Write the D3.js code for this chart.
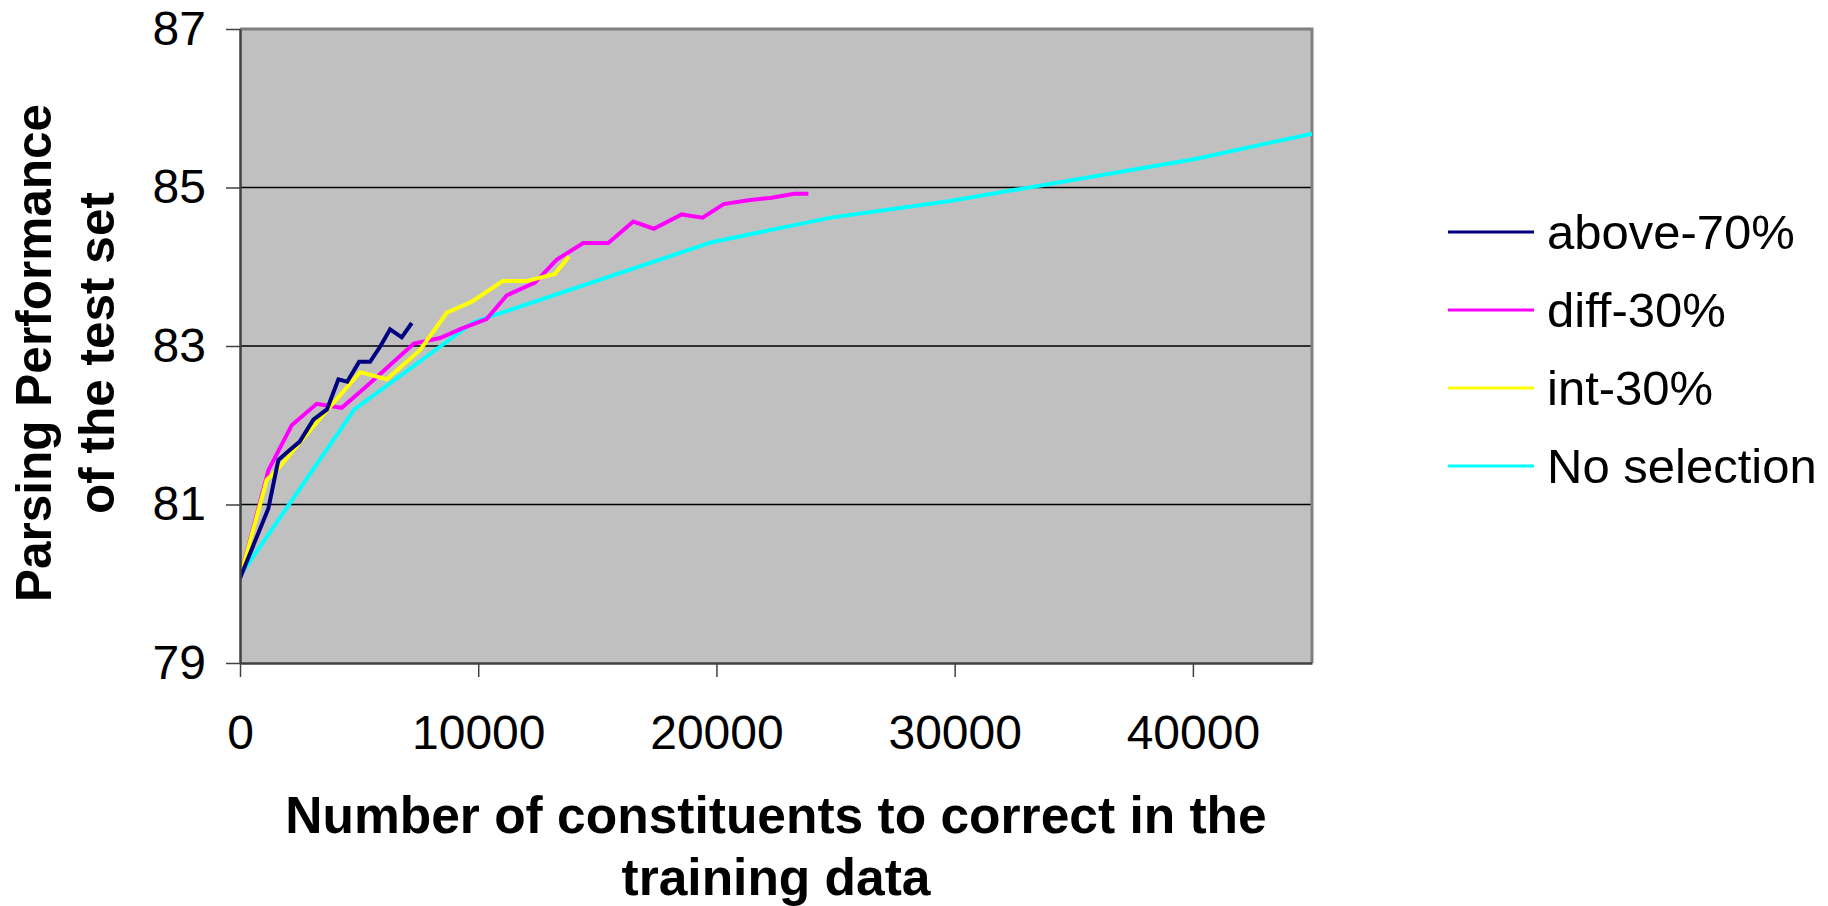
<!DOCTYPE html>
<html>
<head>
<meta charset="utf-8">
<script src="https://cdn.jsdelivr.net/npm/d3@7"></script>
<style>
  html, body { margin: 0; padding: 0; background: #fff; }
  text { font-family: "Liberation Sans", Arial, sans-serif; }
</style>
</head>
<body>
<svg id="chart" width="1828" height="906"></svg>
<script>
// ---- data ----
const seriesNames = ["above-70%", "diff-30%", "int-30%", "No selection"];
const seriesColors = ["#000080", "#FF00FF", "#FFFF00", "#00FFFF"];

const aboveX = [0, 1190, 1610, 2100, 2500, 3080, 3650, 4130, 4500, 5000, 5460, 5880, 6300, 6790, 7210];
const aboveY = [80.07, 80.95, 81.56, 81.69, 81.79, 82.07, 82.2, 82.58, 82.55, 82.8, 82.8, 82.99, 83.21, 83.11, 83.29];

const diffX = [0, 1190, 2170, 3220, 4270, 5300, 6300, 7300, 8400, 9300, 10350, 11200, 12380, 13300, 14410, 15460, 16510, 17370, 18540, 19420, 20300, 21340, 22320, 23260, 23860];
const diffY = [80.07, 81.43, 82.0, 82.27, 82.22, 82.49, 82.76, 83.03, 83.1, 83.22, 83.34, 83.64, 83.8, 84.09, 84.3, 84.3, 84.57, 84.48, 84.66, 84.62, 84.79, 84.84, 84.87, 84.92, 84.92];

const intX = [0, 1120, 1540, 2590, 3800, 5040, 6160, 7560, 8680, 9730, 11030, 12040, 13220, 13810];
const intY = [80.07, 81.31, 81.43, 81.81, 82.24, 82.67, 82.58, 82.95, 83.42, 83.56, 83.82, 83.82, 83.91, 84.13];

const noSelX = [0, 4800, 9800, 19800, 24800, 29800, 40100, 45000];
const noSelY = [80.1, 82.2, 83.3, 84.31, 84.62, 84.83, 85.36, 85.68];

const xTicks = [0, 10000, 20000, 30000, 40000];
const yTicks = [79, 81, 83, 85, 87];
const xTitleLines = ["Number of constituents to correct in the", "training data"];
const yTitleLines = ["Parsing Performance", "of the test set"];

// ---- layout ----
const svg = d3.select("#chart");
const L = 240, R = 1312, T = 29, B = 663;
const x = d3.scaleLinear().domain([0, 45000]).range([L, R]);
const y = d3.scaleLinear().domain([79, 87]).range([B, T]);

const series = [
  {name: seriesNames[0], color: seriesColors[0], pts: aboveX.map((v, i) => [v, aboveY[i]])},
  {name: seriesNames[1], color: seriesColors[1], pts: diffX.map((v, i) => [v, diffY[i]])},
  {name: seriesNames[2], color: seriesColors[2], pts: intX.map((v, i) => [v, intY[i]])},
  {name: seriesNames[3], color: seriesColors[3], pts: noSelX.map((v, i) => [v, noSelY[i]])}
];

// plot background
svg.append("rect").attr("x", L).attr("y", T).attr("width", R - L).attr("height", B - T)
  .attr("fill", "#C0C0C0");

// gridlines
svg.append("g").selectAll("line").data(yTicks.filter(d => d > 79 && d < 87)).join("line")
  .attr("x1", L).attr("x2", R).attr("y1", d => y(d)).attr("y2", d => y(d))
  .attr("stroke", "#000").attr("stroke-width", 1.5);

// border (top / right)
svg.append("path")
  .attr("d", `M${L},${T}H${R}V${B}`)
  .attr("fill", "none").attr("stroke", "#808080").attr("stroke-width", 3);

// clip
svg.append("clipPath").attr("id", "clip").append("rect")
  .attr("x", L).attr("y", T).attr("width", R - L).attr("height", B - T);

const line = d3.line().x(d => x(d[0])).y(d => y(d[1]));
const draw = [series[3], series[1], series[2], series[0]];
svg.append("g").attr("clip-path", "url(#clip)").selectAll("path").data(draw).join("path")
  .attr("d", d => line(d.pts))
  .attr("fill", "none").attr("stroke", d => d.color).attr("stroke-width", 4)
  .attr("stroke-linejoin", "miter").attr("stroke-linecap", "butt");

// axes
const yAxis = d3.axisLeft(y).tickValues(yTicks).tickSize(14).tickSizeOuter(0).tickPadding(20)
  .tickFormat(d3.format("d"));
const gy = svg.append("g").attr("transform", `translate(${L},0)`).call(yAxis);
gy.select(".domain").attr("stroke", "#404040").attr("stroke-width", 2.5);
gy.selectAll(".tick line").attr("stroke", "#404040").attr("stroke-width", 1.5);
gy.selectAll(".tick text").attr("font-size", 48).attr("fill", "#000")
  .attr("font-family", "'Liberation Sans', Arial, sans-serif");

const xAxis = d3.axisBottom(x).tickValues(xTicks).tickSize(14).tickSizeOuter(0).tickPadding(38)
  .tickFormat(d3.format("d"));
const gx = svg.append("g").attr("transform", `translate(0,${B})`).call(xAxis);
gx.select(".domain").attr("stroke", "#404040").attr("stroke-width", 2.5);
gx.selectAll(".tick line").attr("stroke", "#404040").attr("stroke-width", 1.5);
gx.selectAll(".tick text").attr("font-size", 48).attr("fill", "#000")
  .attr("font-family", "'Liberation Sans', Arial, sans-serif");

// axis titles
const xt = svg.append("text").attr("text-anchor", "middle").attr("font-size", 51.5)
  .attr("font-weight", "bold").attr("fill", "#000");
xTitleLines.forEach((t, i) => {
  xt.append("tspan").attr("x", (L + R) / 2).attr("y", 833 + i * 62).text(t);
});

const yt = svg.append("text").attr("text-anchor", "middle").attr("font-size", 49.5)
  .attr("font-weight", "bold").attr("fill", "#000")
  .attr("transform", "rotate(-90)");
yTitleLines.forEach((t, i) => {
  yt.append("tspan").attr("x", -353).attr("y", 51 + i * 63).text(t);
});

// legend
const lg = svg.append("g");
const items = lg.selectAll("g").data(series).join("g")
  .attr("transform", (d, i) => `translate(0,${232 + i * 78})`);
items.append("line").attr("x1", 1448).attr("x2", 1534).attr("y1", 0).attr("y2", 0)
  .attr("stroke", d => d.color).attr("stroke-width", 3);
items.append("text").attr("x", 1547).attr("y", 17).attr("font-size", 49).attr("fill", "#000")
  .text(d => d.name);
</script>
</body>
</html>
